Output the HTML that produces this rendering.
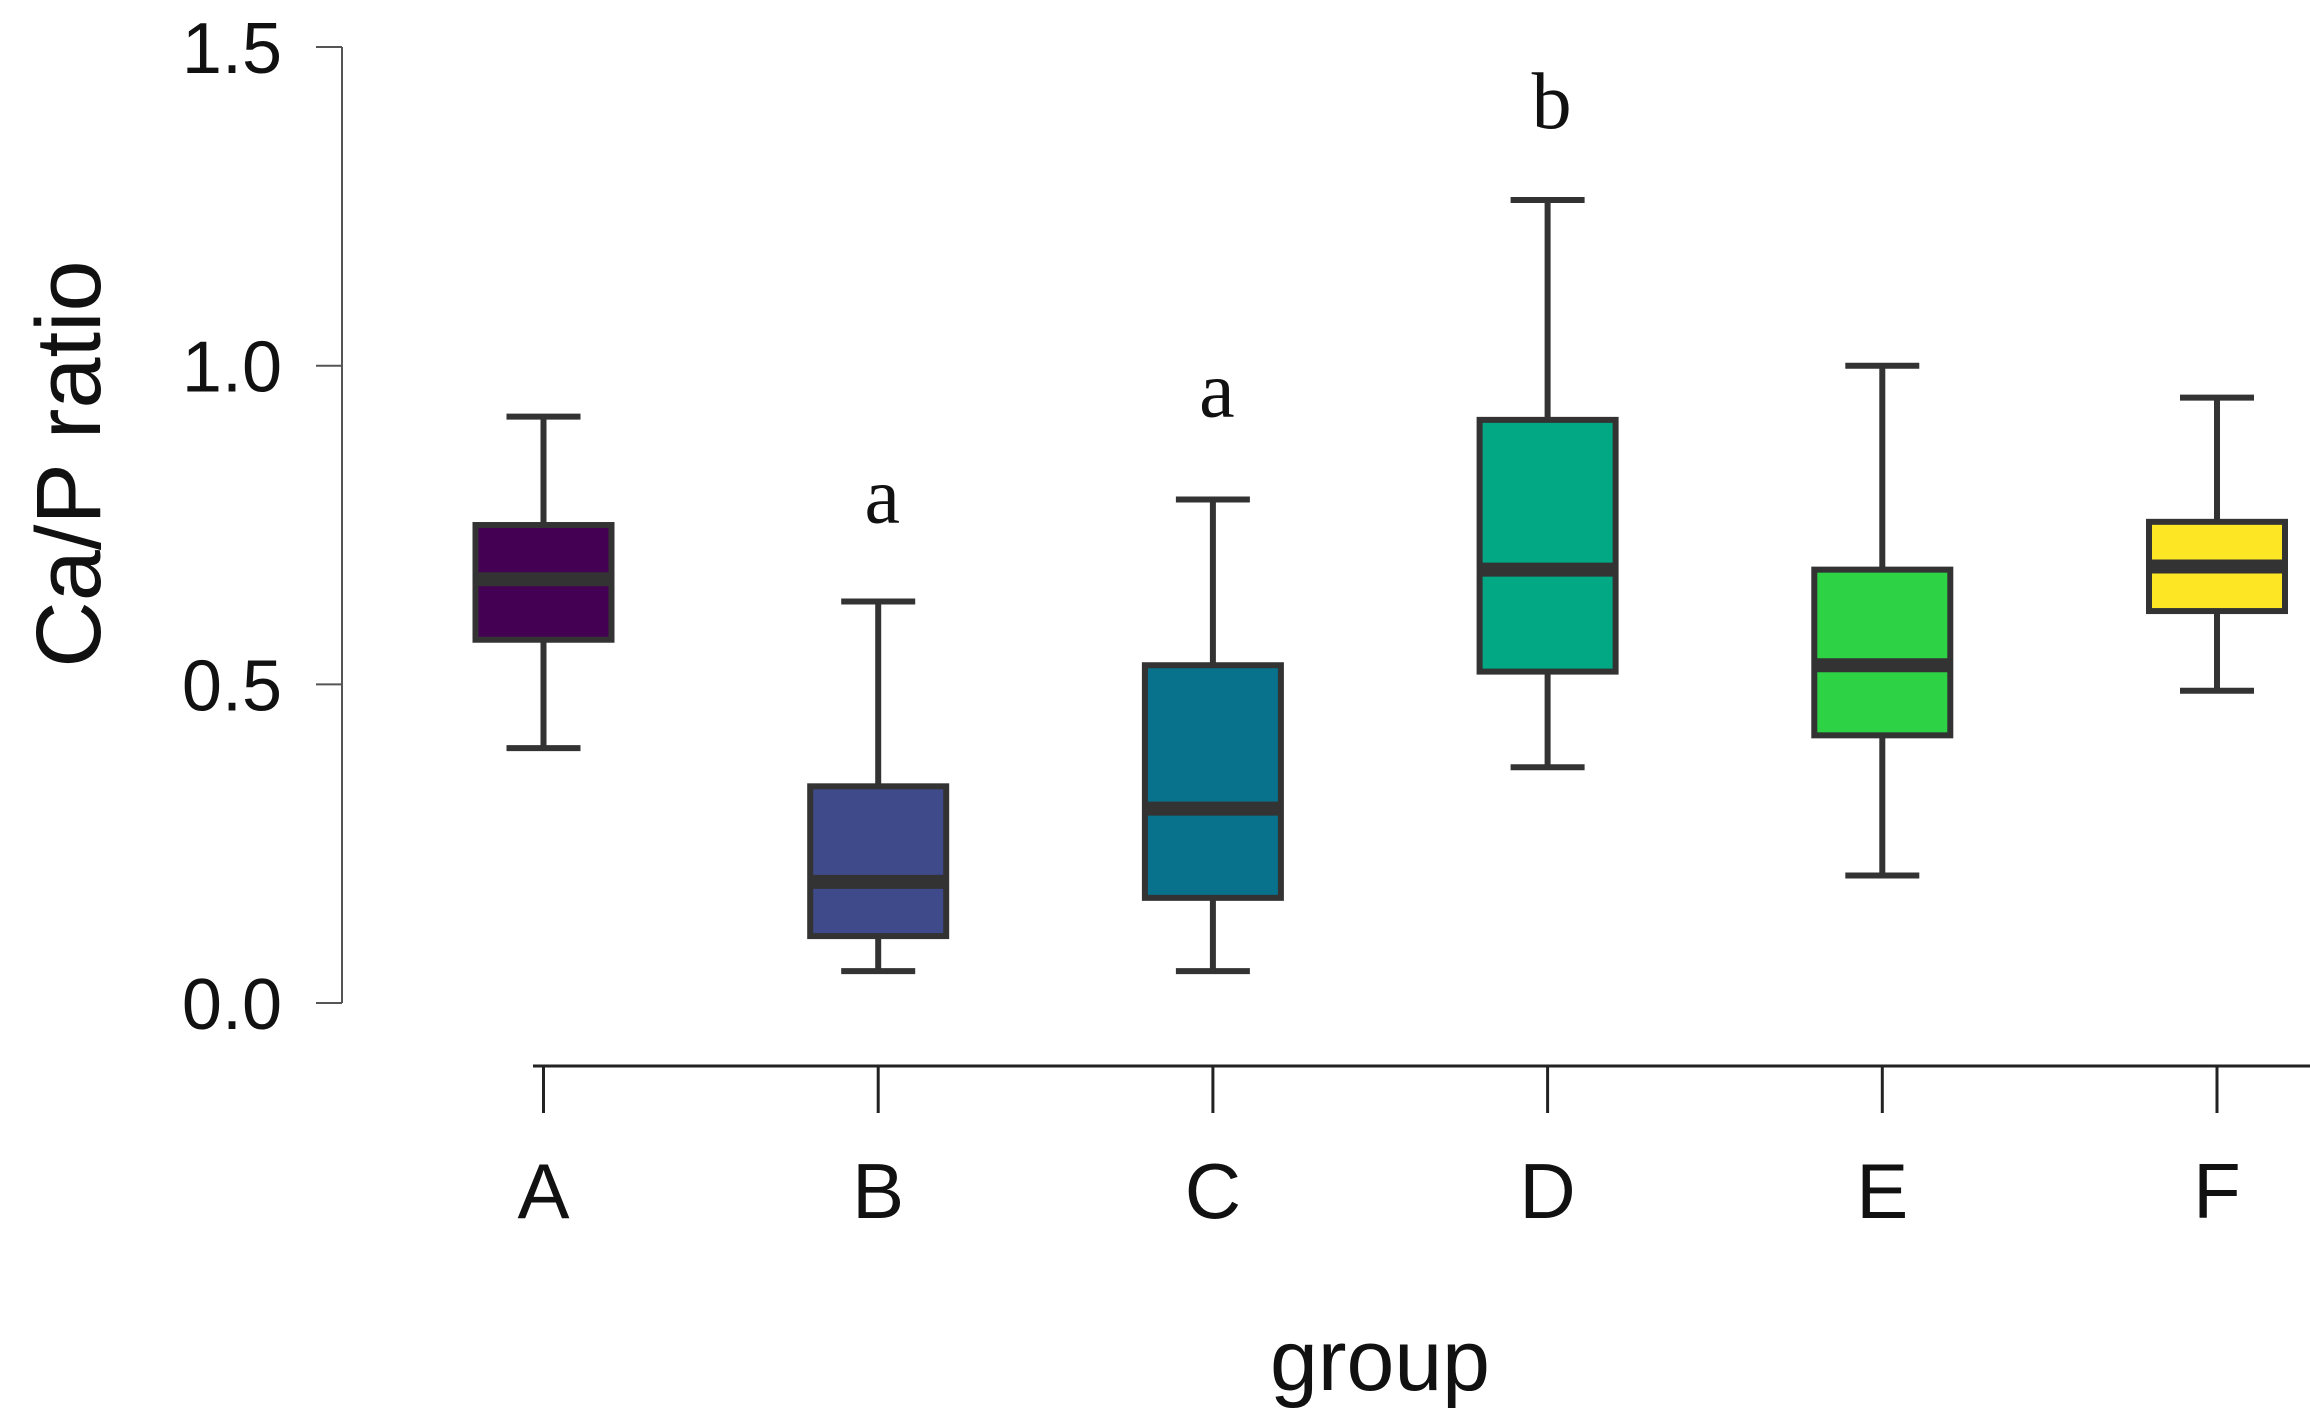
<!DOCTYPE html>
<html><head><meta charset="utf-8"><style>
html,body{margin:0;padding:0;background:#fff;}
svg{display:block;}
</style></head><body>
<svg id="chart" width="2310" height="1422" xmlns="http://www.w3.org/2000/svg">
<g id="axes"></g>
<g id="boxes"></g>
<g id="sig"></g>
<text transform="translate(100,464) rotate(-90)" text-anchor="middle" font-family="Liberation Sans, sans-serif" font-size="92" fill="#111">Ca/P ratio</text>
<text x="1380" y="1390" text-anchor="middle" font-family="Liberation Sans, sans-serif" font-size="86" fill="#111">group</text>
</svg>
<script>
const categories = ['A','B','C','D','E','F'];
const whiskerLow = [0.40,0.05,0.05,0.37,0.20,0.49];
const q1 = [0.57,0.105,0.165,0.52,0.42,0.615];
const medians = [0.665,0.19,0.305,0.68,0.53,0.685];
const q3 = [0.75,0.34,0.53,0.915,0.68,0.755];
const whiskerHigh = [0.92,0.63,0.79,1.26,1.00,0.95];
const colors = ['#440154','#3e4a89','#08718b','#02a884','#2ed245','#fde725'];
const sigLetters = ['','a','a','b','',''];
const sigPos = [0,0.754,0.92,1.373,0,0];
const yTicks = [0.0,0.5,1.0,1.5];
const yTickLabels = ['0.0','0.5','1.0','1.5'];

const NS='http://www.w3.org/2000/svg';
const y = v => 1003 - v*637.3;
const x = i => 543.5 + i*334.7;
function mk(tag, attrs, parent){const e=document.createElementNS(NS,tag);for(const k in attrs)e.setAttribute(k,attrs[k]);parent.appendChild(e);return e;}
const axes=document.getElementById('axes');
let e;
e=mk('line',{x1:342,y1:y(1.5),x2:342,y2:y(0),stroke:'#555','stroke-width':2},axes);


yTicks.forEach((t,i)=>{
  let l=mk('line',{x1:316,y1:y(t),x2:342,y2:y(t),stroke:'#555','stroke-width':2},axes);
  
  
  let tx=mk('text',{x:282,y:y(t)+26,'text-anchor':'end','font-family':'Liberation Sans, sans-serif','font-size':72,fill:'#111'},axes);
  tx.textContent=yTickLabels[i];
  
  
});
e=mk('line',{x1:533,y1:1066,x2:2310,y2:1066,stroke:'#222','stroke-width':3},axes);


categories.forEach((c,i)=>{
  let l=mk('line',{x1:x(i),y1:1066,x2:x(i),y2:1113,stroke:'#222','stroke-width':3},axes);
  
  
  let tx=mk('text',{x:x(i),y:1218,'text-anchor':'middle','font-family':'Liberation Sans, sans-serif','font-size':78,fill:'#111'},axes);
  tx.textContent=c;
  
  
});
const boxes=document.getElementById('boxes');
const hw=68, cw=37, stroke='#333';
categories.forEach((c,i)=>{
  const g=mk('g',{},boxes);
  
  
  mk('line',{x1:x(i),y1:y(whiskerLow[i]),x2:x(i),y2:y(whiskerHigh[i]),stroke:stroke,'stroke-width':6},g);
  mk('line',{x1:x(i)-cw,y1:y(whiskerLow[i]),x2:x(i)+cw,y2:y(whiskerLow[i]),stroke:stroke,'stroke-width':6},g);
  mk('line',{x1:x(i)-cw,y1:y(whiskerHigh[i]),x2:x(i)+cw,y2:y(whiskerHigh[i]),stroke:stroke,'stroke-width':6},g);
  mk('rect',{x:x(i)-hw,y:y(q3[i]),width:2*hw,height:y(q1[i])-y(q3[i]),fill:colors[i],stroke:stroke,'stroke-width':6},g);
  mk('line',{x1:x(i)-hw,y1:y(medians[i]),x2:x(i)+hw,y2:y(medians[i]),stroke:stroke,'stroke-width':14},g);
});
const sig=document.getElementById('sig');
sigLetters.forEach((s,i)=>{
  if(!s)return;
  let tx=mk('text',{x:x(i)+4,y:y(sigPos[i]),'text-anchor':'middle','font-family':'Liberation Serif, serif','font-size':80,fill:'#111'},sig);
  tx.textContent=s;
  
  
});
</script>
</body></html>
